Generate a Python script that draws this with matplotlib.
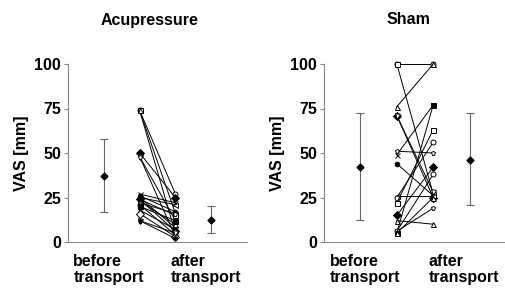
import matplotlib
matplotlib.use("Agg")
import matplotlib.pyplot as plt

plt.rcParams['font.family'] = ['Liberation Sans', 'DejaVu Sans']
plt.rcParams['font.weight'] = 'bold'

# individual patients (before -> after), VAS in mm
acu_before = [74, 74, 74, 50, 48, 48, 27, 26, 25, 25, 24, 24, 23, 22, 21, 20, 18, 16, 12, 12]
acu_after = [27, 16, 5, 25, 12, 3, 22, 17, 21, 8, 15, 6, 10, 16, 4, 12, 7, 3, 5, 2]

sham_before = [100, 100, 76, 71, 71, 51, 49, 44, 26, 25, 22, 15, 12, 6, 6, 5, 5]
sham_after = [100, 27, 100, 25, 28, 50, 77, 26, 26, 56, 63, 42, 10, 19, 38, 77, 25]

# group means with lower / upper whisker
acu_mean = [37, 12.5]
acu_low = [17, 5]
acu_high = [58, 20]
sham_mean = [42, 46]
sham_low = [12.5, 21]
sham_high = [72.5, 72.5]

titles = ['Acupressure', 'Sham']
markers = ['o', 's', '^', 'D', 'v', 'p', 'x', 'h', '<', 'o', 's', 'D', '^', 'p']

fig = plt.figure(figsize=(5.06, 2.88), dpi=100)
ax1 = fig.add_axes([68/506, 46/288, 179/506, 178/288])
ax2 = fig.add_axes([324/506, 46/288, 182/506, 178/288])

panels = [(ax1, acu_before, acu_after, acu_mean, acu_low, acu_high),
          (ax2, sham_before, sham_after, sham_mean, sham_low, sham_high)]

for ax, before, after, mean, low, high in panels:
    for i, (b, a) in enumerate(zip(before, after)):
        m = markers[i % len(markers)]
        fc = 'black' if (i % 4 == 3 or m == 'x') else 'white'
        ax.plot([2, 3], [b, a], color='black', lw=0.7, marker=m, ms=3.6,
                mfc=fc, mec='black', mew=0.7, clip_on=False)
    # mean +/- spread
    for x, mu, lo, hi in zip([1, 4], mean, low, high):
        ax.errorbar(x, mu, yerr=[[mu - lo], [hi - mu]], fmt='D', ms=3.5,
                    color='black', ecolor='#666666', elinewidth=0.8,
                    capsize=3, capthick=0.8, clip_on=False)
    ax.set_xlim(0, 5)
    ax.set_ylim(0, 100)
    ax.set_yticks([0, 25, 50, 75, 100])
    ax.set_xticks([])
    ax.spines['top'].set_visible(False)
    ax.spines['right'].set_visible(False)
    ax.spines['left'].set_color('#888888')
    ax.spines['bottom'].set_color('#888888')
    ax.tick_params(axis='y', length=3, color='#888888', labelsize=11.5, pad=2)
    ax.set_ylabel('VAS [mm]', fontsize=11.5, fontweight='bold', labelpad=4)
    ax.text(0.03, -0.065, 'before\ntransport', transform=ax.transAxes,
            ha='left', va='top', fontsize=11.5, fontweight='bold', linespacing=1.1)
    ax.text(0.575, -0.065, 'after\ntransport', transform=ax.transAxes,
            ha='left', va='top', fontsize=11.5, fontweight='bold', linespacing=1.1)

fig.text(150/506, 1 - 20/288, titles[0], ha='center', va='center',
         fontsize=11.5, fontweight='bold')
fig.text(408/506, 1 - 20/288, titles[1], ha='center', va='center',
         fontsize=11.5, fontweight='bold')

fig.savefig('out.png', dpi=100)
